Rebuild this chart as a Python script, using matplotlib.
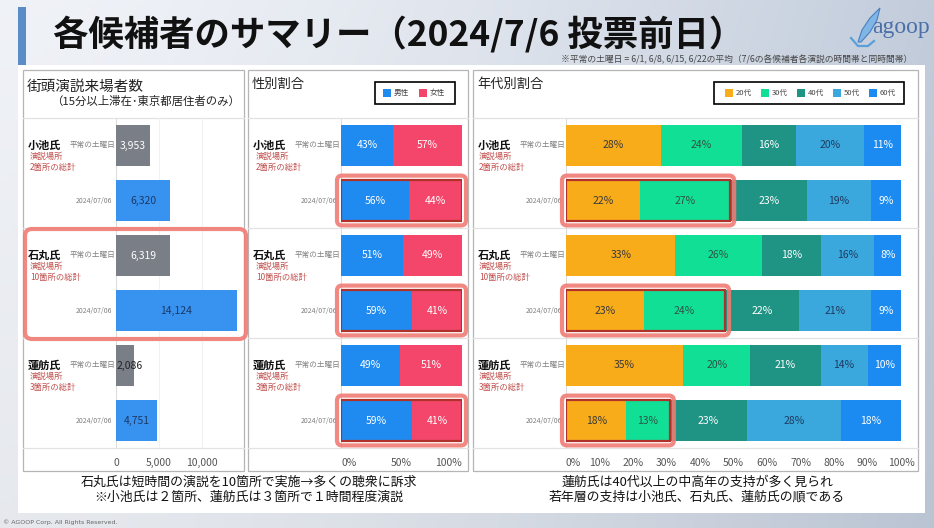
import numpy as np
import matplotlib
matplotlib.use('Agg')
import matplotlib.pyplot as plt
from matplotlib.patches import Rectangle, FancyBboxPatch, Polygon

plt.rcParams['font.family'] = ['Noto Sans CJK JP', 'DejaVu Sans']

W, H = 934, 528

# ── data ──────────────────────────────────────────────────────────────────────
candidates = ['小池氏', '石丸氏', '蓮舫氏']
site_notes = ['2箇所の総計', '10箇所の総計', '3箇所の総計']
periods = ['平常の土曜日', '2024/07/06']

visitors_avg = [3953, 6319, 2086]
visitors_day = [6320, 14124, 4751]
visitor_ticks = [0, 5000, 10000]

gender_labels = ['男性', '女性']
male_avg = [43, 51, 49]
female_avg = [57, 49, 51]
male_day = [56, 59, 59]
female_day = [44, 41, 41]

age_groups = ['20代', '30代', '40代', '50代', '60代']
age_avg = [[28, 24, 16, 20, 11], [33, 26, 18, 16, 8], [35, 20, 21, 14, 10]]
age_day = [[22, 27, 23, 19, 9], [23, 24, 22, 21, 9], [18, 13, 23, 28, 18]]
pct_ticks = [0, 10, 20, 30, 40, 50, 60, 70, 80, 90, 100]

# ── styles ────────────────────────────────────────────────────────────────────
C_AVG, C_DAY = '#7a7f87', '#3892f0'
C_GENDER = ['#1f8bf0', '#f3466a']
C_AGE = ['#f8ac1a', '#12df96', '#1f9384', '#3aa8dc', '#1b8bf2']
T_AGE = ['#3a3a3a', '#2d5247', 'white', '#1f3a5f', 'white']
RED_TXT = '#c0504d'
GRAY_TXT = '#808080'
HL_OUT, HL_IN = '#f07b74', '#b0302a'

fig = plt.figure(figsize=(W / 100, H / 100), dpi=100)

def px_axes(x0, y0, x1, y1, **kw):
    return fig.add_axes([x0 / W, 1 - y1 / H, (x1 - x0) / W, (y1 - y0) / H], **kw)

# background
bg = px_axes(0, 0, W, H)
bg.set_xlim(0, W); bg.set_ylim(H, 0); bg.axis('off')
c0 = np.array([0.94, 0.95, 0.97]); c1 = np.array([0.76, 0.80, 0.86])
gx = np.linspace(0, 1, 300) ** 1.5
gy = np.linspace(0, 1, 100)[:, None]
grad = c0 * (1 - gx[None, :, None]) + c1 * gx[None, :, None]
grad = grad * (1 - 0.04 * gy[:, :, None])
bg.imshow(grad, extent=(0, W, H, 0), aspect='auto', zorder=0)
bg.add_patch(Rectangle((18, 65), 907, 448, fc='white', ec='none', zorder=1))

# title
bg.add_patch(Rectangle((18, 7), 8, 58, fc='#5a8cc8', ec='none', zorder=2))
bg.text(53, 34, '各候補者のサマリー（2024/7/6 投票前日）', fontsize=25.5, fontweight='bold',
        va='center', ha='left', color='#111111', zorder=3)
bg.text(912, 60, '※平常の土曜日 = 6/1, 6/8, 6/15, 6/22の平均（7/6の各候補者各演説の時間帯と同時間帯）',
        fontsize=6.3, ha='right', va='center', color='#444444', zorder=3)
# logo
bg.add_patch(Polygon([(858, 42), (862, 30), (870, 18), (880, 8), (877, 20), (870, 32), (861, 42)],
                     closed=True, fc='#7fb6e6', ec='#4a7fc0', lw=0.8, zorder=3))
bg.plot([851, 858, 868, 874], [38, 46, 46, 41], color='#5aa0d8', lw=1.6, zorder=3)
bg.text(872, 27, 'agoop', fontsize=17, family=['Liberation Serif'], color='#4a70a8',
        ha='left', va='center', zorder=3)
bg.text(3, 522, '© AGOOP Corp. All Rights Reserved.', fontsize=4.5, color='#666666',
        ha='left', va='center', family=['DejaVu Sans'], zorder=3)

# panels
panels = [(23, 244), (248, 468), (473, 918)]
for x0, x1 in panels:
    bg.add_patch(Rectangle((x0, 70), x1 - x0, 401, fc='white', ec='#b5b5b5', lw=0.9, zorder=2))

TOP, BOT = 118, 448
slot = (BOT - TOP) / 6
for x0, x1 in panels:
    for yy in [TOP, TOP + 2 * slot, TOP + 4 * slot, BOT]:
        bg.plot([x0, x1], [yy, yy], color='#e2e2e2', lw=0.9, zorder=3)

bg.text(27, 87, '街頭演説来場者数', fontsize=10.5, ha='left', va='center', color='#222222', zorder=4)
bg.text(240, 101, '（15分以上滞在･東京都居住者のみ）', fontsize=8.2, ha='right', va='center',
        color='#222222', zorder=4)
bg.text(252, 84, '性別割合', fontsize=9.5, ha='left', va='center', color='#222222', zorder=4)
bg.text(477, 84, '年代別割合', fontsize=9.5, ha='left', va='center', color='#222222', zorder=4)

# legends
bg.add_patch(Rectangle((375, 82), 80, 22, fc='white', ec='black', lw=1.2, zorder=4))
for i, (lab, c) in enumerate(zip(gender_labels, C_GENDER)):
    lx = 383 + 36 * i
    bg.add_patch(Rectangle((lx, 89), 8, 8, fc=c, ec='none', zorder=5))
    bg.text(lx + 11, 93, lab, fontsize=5.5, ha='left', va='center', color='#444444', zorder=5)
bg.add_patch(Rectangle((714, 82), 190, 22, fc='white', ec='black', lw=1.2, zorder=4))
for i, (lab, c) in enumerate(zip(age_groups, C_AGE)):
    lx = 725 + 36 * i
    bg.add_patch(Rectangle((lx, 89), 8, 8, fc=c, ec='none', zorder=5))
    bg.text(lx + 11, 93, lab, fontsize=5.5, ha='left', va='center', color='#444444', zorder=5)

# row labels
label_x = [(28, 30, 115, 112), (253, 256, 340, 337), (478, 479, 565, 562)]
for nx, rx, px_, dx in label_x:
    for k, name in enumerate(candidates):
        ya = TOP + slot * (2 * k + 0.5)
        yd = TOP + slot * (2 * k + 1.5)
        bg.text(nx, ya, name, fontsize=8, fontweight='bold', ha='left', va='center', color='#111111', zorder=4)
        bg.text(px_, ya, periods[0], fontsize=5.5, ha='right', va='center', color=GRAY_TXT, zorder=4)
        bg.text(rx, ya + 11, '演説場所', fontsize=6, ha='left', va='center', color=RED_TXT, zorder=4)
        bg.text(rx, ya + 22, site_notes[k], fontsize=6, ha='left', va='center', color=RED_TXT, zorder=4)
        bg.text(dx, yd, periods[1], fontsize=5, ha='right', va='center', color=GRAY_TXT, zorder=4)

# bottom comments
bg.text(249, 482, '石丸氏は短時間の演説を10箇所で実施→多くの聴衆に訴求', fontsize=9.3,
        ha='center', va='center', color='#111111', zorder=4)
bg.text(249, 497, '※小池氏は２箇所、蓮舫氏は３箇所で１時間程度演説', fontsize=9.3,
        ha='center', va='center', color='#111111', zorder=4)
bg.text(697, 482, '蓮舫氏は40代以上の中高年の支持が多く見られ', fontsize=9.3,
        ha='center', va='center', color='#111111', zorder=4)
bg.text(697, 497, '若年層の支持は小池氏、石丸氏、蓮舫氏の順である', fontsize=9.3,
        ha='center', va='center', color='#111111', zorder=4)

ypos_avg = np.arange(3) * 2
ypos_day = ypos_avg + 1
BAR_H = 0.76

def setup(ax, xmax, ticks, labels):
    ax.set_xlim(0, xmax)
    ax.set_ylim(5.5, -0.5)
    ax.patch.set_alpha(0)
    for s in ax.spines.values():
        s.set_visible(False)
    ax.set_yticks([])
    ax.set_xticks(ticks)
    ax.set_xticklabels(labels)
    ax.tick_params(axis='x', length=0, pad=7, labelsize=7.5, labelcolor='#555555')
    ax.axvline(0, color='#dcdcdc', lw=0.8, zorder=0)

# ── panel 1: visitors ─────────────────────────────────────────────────────────
ax1 = px_axes(116, TOP, 243, BOT)
setup(ax1, 14820, visitor_ticks, [f'{t:,}' for t in visitor_ticks])
for t in visitor_ticks[1:]:
    ax1.axvline(t, color='#f2f2f2', lw=0.8, zorder=0)
ax1.barh(ypos_avg, visitors_avg, height=BAR_H, color=C_AVG, zorder=2)
ax1.barh(ypos_day, visitors_day, height=BAR_H, color=C_DAY, zorder=2)
for y, v in zip(ypos_avg, visitors_avg):
    if v > 3000:
        ax1.text(v / 2, y, f'{v:,}', ha='center', va='center', fontsize=7.5, color='white', zorder=3)
    else:
        ax1.text(v * 0.02, y, f'{v:,}', ha='left', va='center', fontsize=7.5, color='#222222', zorder=3)
for y, v in zip(ypos_day, visitors_day):
    ax1.text(v / 2, y, f'{v:,}', ha='center', va='center', fontsize=7.5, color='#1b3a66', zorder=3)

# ── panel 2: gender ───────────────────────────────────────────────────────────
ax2 = px_axes(341, TOP, 462, BOT)
setup(ax2, 100, [0, 50, 100], ['0%', '50%', '100%'])
t2 = ax2.get_xticklabels()
t2[0].set_ha('left'); t2[-1].set_ha('right')
for ys, m, f in [(ypos_avg, male_avg, female_avg), (ypos_day, male_day, female_day)]:
    m = np.array(m, float); f = np.array(f, float)
    tot = m + f
    mw, fw = m / tot * 100, f / tot * 100
    ax2.barh(ys, mw, height=BAR_H, color=C_GENDER[0], zorder=2)
    ax2.barh(ys, fw, left=mw, height=BAR_H, color=C_GENDER[1], zorder=2)
    for y, a, b, mv, fv in zip(ys, mw, fw, m, f):
        ax2.text(a / 2, y, f'{mv:.0f}%', ha='center', va='center', fontsize=7.5, color='white', zorder=3)
        ax2.text(a + b / 2, y, f'{fv:.0f}%', ha='center', va='center', fontsize=7.5, color='white', zorder=3)

# ── panel 3: age ──────────────────────────────────────────────────────────────
ax3 = px_axes(566, TOP, 901, BOT)
setup(ax3, 100, pct_ticks, [f'{t}%' for t in pct_ticks])
ax3.get_xticklabels()[0].set_ha('left')
age_widths_day = []
for ys, rows, store in [(ypos_avg, age_avg, None), (ypos_day, age_day, age_widths_day)]:
    for y, vals in zip(ys, rows):
        vals = np.array(vals, float)
        widths = vals / vals.sum() * 100
        lefts = np.concatenate([[0], np.cumsum(widths)[:-1]])
        if store is not None:
            store.append(widths)
        for j in range(len(vals)):
            ax3.barh(y, widths[j], left=lefts[j], height=BAR_H, color=C_AGE[j], zorder=2)
            ax3.text(lefts[j] + widths[j] / 2, y, f'{vals[j]:.0f}%', ha='center', va='center',
                     fontsize=7.5, color=T_AGE[j], zorder=3)

# ── highlight boxes ──────────────────────────────────────────────────────────
fg = px_axes(0, 0, W, H)
fg.set_xlim(0, W); fg.set_ylim(H, 0); fg.axis('off'); fg.patch.set_alpha(0)

def to_px(ax, x, y):
    return fg.transData.inverted().transform(ax.transData.transform((x, y)))

def highlight(ax, xend, y, pad=4):
    ax.add_patch(Rectangle((0, y - BAR_H / 2), xend, BAR_H, fill=False, ec=HL_IN, lw=1.6, zorder=4))
    (px0, py0) = to_px(ax, 0, y - BAR_H / 2)
    (px1, py1) = to_px(ax, xend, y + BAR_H / 2)
    x0, x1 = min(px0, px1) - pad, max(px0, px1) + pad
    y0, y1 = min(py0, py1) - pad, max(py0, py1) + pad
    fg.add_patch(FancyBboxPatch((x0, y0), x1 - x0, y1 - y0, boxstyle='round,pad=0,rounding_size=5',
                                fill=False, ec=HL_OUT, lw=3, alpha=0.9))

for y in ypos_day:
    highlight(ax2, 100, y)
for y, w in zip(ypos_day, age_widths_day):
    highlight(ax3, w[0] + w[1], y)

# Ishimaru group in visitor panel
y_top = to_px(ax1, 0, 1.5)[1]
y_bot = to_px(ax1, 0, 3.5)[1]
fg.add_patch(FancyBboxPatch((25, y_top + 1), 221, y_bot - y_top, boxstyle='round,pad=0,rounding_size=7',
                            fill=False, ec=HL_OUT, lw=3, alpha=0.9))

fig.savefig('out.png', dpi=100)
